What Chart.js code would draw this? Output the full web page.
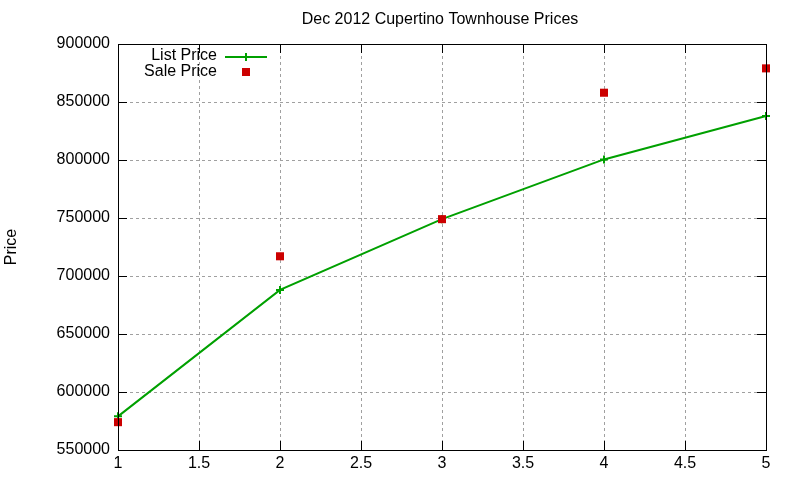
<!DOCTYPE html>
<html><head><meta charset="utf-8">
<script src="https://cdn.jsdelivr.net/npm/chart.js@4"></script>
<style>html,body{margin:0;padding:0;background:#fff}#wrap{width:800px;height:480px}</style>
</head><body><div id="wrap"><canvas id="c" width="800" height="480"></canvas></div>
<script>
const titleText = "Dec 2012 Cupertino Townhouse Prices";
const yAxisTitle = "Price";
const xValues = [1, 2, 3, 4, 5];
const listPrice = [579000, 688000, 749000, 800500, 838000];
const salePrice = [574000, 717000, 749000, 858000, 879000];
const seriesNames = ["List Price", "Sale Price"];
const FONT = "'Liberation Sans', Arial, sans-serif";

const frame = {
  id: 'frame',
  afterDraw(chart) {
    const {ctx, chartArea: a, scales: {x, y}} = chart;
    ctx.save();
    ctx.strokeStyle = '#000'; ctx.lineWidth = 1;
    ctx.beginPath();
    const tl = 9;
    x.ticks.forEach(t => {
      const px = Math.round(x.getPixelForValue(t.value)) + 0.5;
      ctx.moveTo(px, a.bottom); ctx.lineTo(px, a.bottom - tl);
      ctx.moveTo(px, a.top); ctx.lineTo(px, a.top + tl);
    });
    y.ticks.forEach(t => {
      const py = Math.round(y.getPixelForValue(t.value)) + 0.5;
      ctx.moveTo(a.left, py); ctx.lineTo(a.left + tl, py);
      ctx.moveTo(a.right, py); ctx.lineTo(a.right - tl, py);
    });
    ctx.stroke();
    ctx.strokeRect(Math.round(a.left) + 0.5, Math.round(a.top) + 0.5, Math.round(a.right - a.left), Math.round(a.bottom - a.top));
    // title
    ctx.fillStyle = '#000';
    ctx.font = '16px ' + FONT;
    ctx.textAlign = 'center'; ctx.textBaseline = 'middle';
    ctx.fillText(titleText, 440, 20);
    // y title
    ctx.save();
    ctx.translate(12, 247); ctx.rotate(-Math.PI / 2);
    ctx.font = '16px ' + FONT;
    ctx.fillText(yAxisTitle, 0, 0);
    ctx.restore();
    // legend
    ctx.font = '16px ' + FONT;
    ctx.textAlign = 'right';
    const ds = chart.data.datasets;
    ctx.fillText(ds[0].label, 217, 56);
    ctx.fillText(ds[1].label, 217, 72);
    ctx.strokeStyle = ds[0].borderColor; ctx.lineWidth = 2;
    ctx.beginPath(); ctx.moveTo(225, 57); ctx.lineTo(267, 57);
    ctx.moveTo(246, 53); ctx.lineTo(246, 61); ctx.stroke();
    ctx.fillStyle = ds[1].backgroundColor;
    ctx.fillRect(242, 68, 8, 8);
    ctx.restore();
  }
};

new Chart(document.getElementById('c'), {
  type: 'line',
  data: {
    datasets: [
      {
        label: seriesNames[0], order: 1,
        data: xValues.map((v, i) => ({x: v, y: listPrice[i]})),
        borderColor: '#00a000', backgroundColor: '#00a000', borderWidth: 2,
        pointStyle: 'cross', pointRadius: 4, pointBorderWidth: 2, tension: 0, clip: false
      },
      {
        label: seriesNames[1], order: 0,
        data: xValues.map((v, i) => ({x: v, y: salePrice[i]})),
        showLine: false, clip: false,
        borderColor: '#cc0000', backgroundColor: '#cc0000',
        pointStyle: 'rect', pointRadius: 5.7, pointBorderWidth: 0
      }
    ]
  },
  options: {
    responsive: false, animation: false, devicePixelRatio: 1,
    layout: {padding: {top: 44, right: 34, left: 0, bottom: 0}},
    plugins: {legend: {display: false}, title: {display: false}, tooltip: {enabled: false}},
    scales: {
      x: {
        type: 'linear', min: 1, max: 5,
        ticks: {stepSize: 0.5, color: '#000', font: {size: 16, family: FONT}, padding: 4, maxRotation: 0, autoSkip: false, callback: v => String(v)},
        grid: {color: '#a0a0a0', lineWidth: 1, drawTicks: false, tickLength: 0},
        border: {display: false, dash: [3, 3]},
        afterFit(s) { s.height = 30; }
      },
      y: {
        type: 'linear', min: 550000, max: 900000,
        ticks: {stepSize: 50000, color: '#000', font: {size: 16, family: FONT}, padding: 8, callback: v => String(v)},
        grid: {color: '#a0a0a0', lineWidth: 1, drawTicks: false, tickLength: 0},
        border: {display: false, dash: [3, 3]},
        afterFit(s) { s.width = 118; }
      }
    }
  },
  plugins: [frame]
});
</script></body></html>
